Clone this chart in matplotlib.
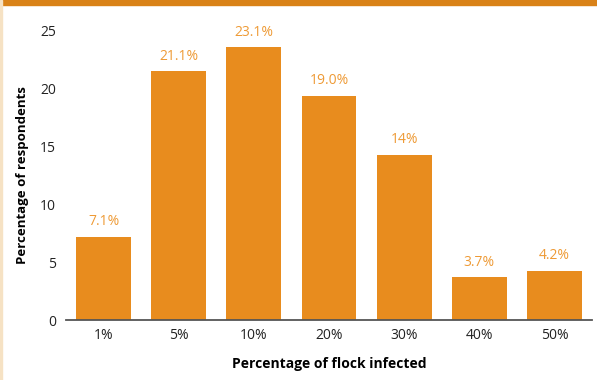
#!/usr/bin/env python

import numpy as np
import matplotlib.pyplot as plt
from matplotlib.patches import Rectangle

plt.rcParams['font.family'] = ['Open Sans', 'DejaVu Sans']

categories = ['1%', '5%', '10%', '20%', '30%', '40%', '50%']
heights = [7.2, 21.5, 23.6, 19.4, 14.3, 3.7, 4.25]
labels = ['7.1%', '21.1%', '23.1%', '19.0%', '14%', '3.7%', '4.2%']
yticks = [0, 5, 10, 15, 20, 25]

bar_col = '#E88C1E'
txt_col = '#EE9A35'

fig = plt.figure(figsize=(5.97, 3.8), dpi=100)
ax = fig.add_axes([66/597, 1-320/380, (592-66)/597, (320-31)/380])

x = np.arange(len(categories))
ax.bar(x, heights, width=0.73, color=bar_col, zorder=2)
for xi, h, lab in zip(x, heights, labels):
	ax.annotate(lab, (xi, h), xytext=(0, 5.5), textcoords='offset points',
		ha='center', va='bottom', color=txt_col, fontsize=10)

ax.set_xlim(-0.5, 6.5)
ax.set_ylim(0, 25)
ax.set_xticks(x)
ax.set_xticklabels(categories, fontsize=10, color='#222222')
ax.set_yticks(yticks)
ax.set_yticklabels([str(t) for t in yticks], fontsize=10, color='#222222')
ax.tick_params(axis='both', length=0)
ax.tick_params(axis='x', pad=6)
ax.tick_params(axis='y', pad=7)

for s in ['top', 'right', 'left']:
	ax.spines[s].set_visible(False)
ax.spines['bottom'].set_color('#555555')
ax.spines['bottom'].set_linewidth(1.3)
ax.spines['bottom'].set_zorder(3)

ax.set_xlabel('Percentage of flock infected', fontsize=10, fontweight='bold', labelpad=10)
ax.set_ylabel('Percentage of respondents', fontsize=9.5, fontweight='bold', labelpad=8)

# frame decorations
fig.patches.append(Rectangle((0, 1-5/380), 1, 5/380, transform=fig.transFigure,
	color='#D98218', zorder=0))
fig.patches.append(Rectangle((0, 0), 2/597, 1, transform=fig.transFigure,
	color='#F6E2C4', zorder=0))

fig.savefig('out.png', dpi=100)
